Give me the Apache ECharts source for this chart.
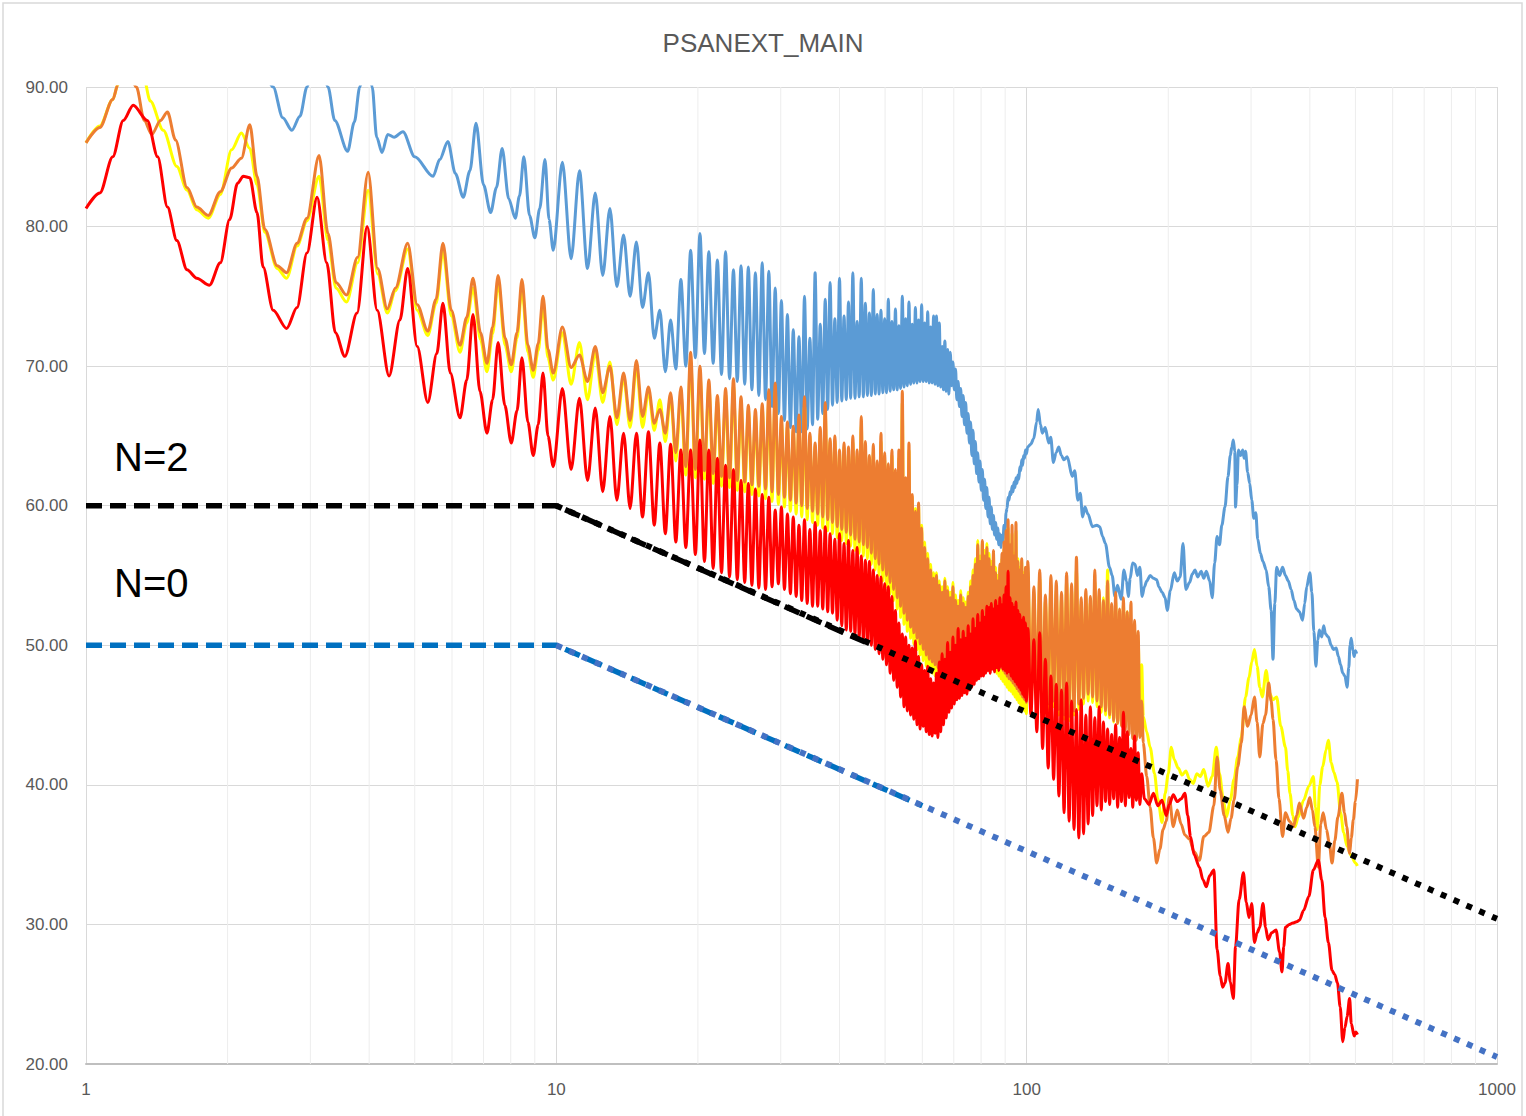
<!DOCTYPE html>
<html>
<head>
<meta charset="UTF-8">
<title>PSANEXT_MAIN</title>
<script src="https://cdn.jsdelivr.net/npm/echarts@6/dist/echarts.min.js"></script>
<style>
    html, body { margin: 0; padding: 0; background: #fff; }
    #main { width: 1526px; height: 1116px; }
</style>
</head>
<body>
<div id="main"></div>
<script>
    // ---- data (frequency in Hz, level in dB) ----
    var yTicks = [20, 30, 40, 50, 60, 70, 80, 90];
    var minorGridHz = [2, 3, 4, 5, 6, 7, 8, 9, 20, 30, 40, 50, 60, 70, 80, 90, 200, 300, 400, 500, 600, 700, 800, 900];

    // 1 .. 10 Hz, each trace read on its own
    var blueLowHz = [1.0,1.5,2.0,2.3,2.5,2.62,2.74,2.85,2.95,3.1,3.27,3.38,3.6,3.72,3.82,3.95,4.06,4.15,4.26,4.38,4.52,4.72,5.0,5.47,5.65,5.88,6.1,6.34,6.55,6.75,7.0,7.25,7.46,7.67,7.92,8.18,8.35,8.53,8.77,9.0,9.22,9.46,9.65];
    var blueLowDb = [98,99,96,93,90.0,87.8,86.9,87.9,90.0,94,90.0,87.6,85.4,87.5,90.0,93,90.0,86.4,85.3,86.6,86.4,86.8,85.0,83.6,84.8,86.1,83.8,82.1,84.0,87.4,83.0,81.0,82.8,85.6,82.0,80.6,82.2,85.0,80.8,79.2,81.3,84.8,80.5];

    var yellowLowHz = [1.0,1.07,1.14,1.17,1.24,1.32,1.37,1.46,1.56,1.64,1.72,1.82,1.93,2.04,2.14,2.23,2.31,2.4,2.55,2.67,2.81,2.95,3.13,3.27,3.4,3.58,3.78,3.98,4.17,4.37,4.55,4.83,5.06,5.33,5.55,5.74,5.98,6.24,6.45,6.65,6.9,7.12,7.32,7.52,7.78,8.02,8.25,8.45,8.7,8.93,9.15,9.37,9.6];
    var yellowLowDb = [86.0,87.2,89.1,90.2,92.5,91.0,89.0,86.9,84.3,82.6,81.2,80.6,82.3,85.5,86.7,85.6,83.0,79.6,77.0,76.3,78.6,80.4,83.6,79.0,75.6,74.6,77.4,82.6,76.6,73.8,75.4,78.4,74.0,72.2,74.5,78.2,73.6,71.0,73.1,75.6,71.9,69.6,72.3,76.0,71.5,69.6,72.0,75.6,71.0,69.2,71.1,74.3,70.6];

    var orangeLowHz = [1.0,1.07,1.14,1.17,1.22,1.28,1.33,1.38,1.44,1.49,1.55,1.64,1.72,1.82,1.93,2.04,2.14,2.23,2.31,2.4,2.55,2.67,2.81,2.95,3.13,3.27,3.4,3.58,3.78,3.98,4.17,4.37,4.55,4.83,5.06,5.33,5.55,5.74,5.98,6.24,6.45,6.65,6.9,7.12,7.32,7.52,7.78,8.02,8.25,8.45,8.7,8.93,9.15,9.37,9.6];
    var orangeLowDb = [86.0,87.1,89.1,90.2,91.6,90.0,87.6,86.6,87.6,88.2,86.2,82.8,81.4,80.8,82.5,84.2,84.9,87.3,83.6,79.8,77.2,76.7,78.8,80.6,85.1,79.5,76.0,75.1,77.8,83.9,77.0,74.1,75.6,78.8,74.4,72.5,74.8,78.8,74.0,71.5,73.5,76.3,72.4,70.2,72.8,76.5,72.0,70.1,72.4,76.2,71.5,69.7,71.6,75.0,71.2];

    var redLowHz = [1.0,1.07,1.14,1.2,1.26,1.35,1.42,1.49,1.56,1.64,1.72,1.83,1.93,2.02,2.1,2.16,2.23,2.31,2.38,2.5,2.67,2.81,2.95,3.1,3.25,3.39,3.55,3.77,3.96,4.16,4.41,4.65,4.83,5.06,5.33,5.57,5.74,5.95,6.24,6.45,6.65,6.88,7.12,7.32,7.52,7.77,8.02,8.25,8.45,8.7,8.93,9.15,9.37,9.6];
    var redLowDb = [81.3,82.4,85.0,87.6,88.7,87.6,85.0,81.4,79.0,76.9,76.3,75.8,77.4,80.5,83.1,83.6,83.5,81.0,77.1,74.0,72.7,74.2,78.1,82.1,77.4,72.4,70.7,73.8,80.0,74.0,69.3,73.3,77.0,71.4,67.4,70.9,74.5,69.5,66.3,69.0,73.7,68.2,65.2,67.6,71.7,67.2,64.5,66.8,70.6,66.0,63.6,65.8,69.5,65.0];

    // 10 .. 100 Hz ripple, trough / peak pairs shared by all traces
    var midHz = [
        9.85,10.3,10.75,11.2,11.65,12.1,12.55,13.0,13.45,13.9,
        14.35,14.8,15.25,15.7,16.15,16.6,17.05,17.5,17.95,18.4,
        18.85,19.3,19.75,20.2,20.65,21.1,21.55,22.0,22.45,22.9,
        23.35,23.8,24.25,24.7,25.15,25.6,26.05,26.5,26.95,27.4,
        27.85,28.3,28.75,29.2,29.65,30.1,30.55,31.0,31.45,31.9,
        32.35,32.8,33.25,33.7,34.15,34.6,35.05,35.5,35.95,36.4,
        36.85,37.3,37.75,38.2,38.65,39.1,39.55,40.0,40.45,40.9,
        41.35,41.8,42.25,42.7,43.15,43.6,44.05,44.5,44.95,45.4,
        45.85,46.3,46.75,47.2,47.65,48.1,48.55,49.0,49.45,49.9,
        50.35,50.8,51.25,51.7,52.15,52.6,53.05,53.5,53.95,54.4,
        54.85,55.3,55.75,56.2,56.65,57.1,57.55,58.0,58.45,58.9,
        59.35,59.8,60.25,60.7,61.15,61.6,62.05,62.5,62.95,63.4,
        63.85,64.3,64.75,65.2,65.65,66.1,66.55,67.0,67.45,67.9,
        68.35,68.8,69.25,69.7,70.15,70.6,71.05,71.5,71.95,72.4,
        72.85,73.3,73.75,74.2,74.65,75.1,75.55,76.0,76.45,76.9,
        77.35,77.8,78.25,78.7,79.15,79.6,80.05,80.5,80.95,81.4,
        81.85,82.3,82.75,83.2,83.65,84.1,84.55,85.0,85.45,85.9,
        86.35,86.8,87.25,87.7,88.15,88.6,89.05,89.5,89.95,90.4,
        90.85,91.3,91.75,92.2,92.65,93.1,93.55,94.0,94.45,94.9,
        95.35,95.8,96.25,96.7,97.15,97.6,98.05,98.5,98.95,99.4,
        99.85
    ];
    var blueMidDb = [
        78.3,84.6,77.7,84.0,77.0,82.4,76.5,81.3,75.7,79.4,
        75.0,78.9,74.2,76.7,72.0,74.0,69.6,73.3,69.8,76.2,
        70.0,78.3,70.6,79.5,70.9,78.2,70.2,77.6,69.4,78.2,
        69.1,76.9,68.9,77.2,68.7,77.1,68.3,76.7,67.9,77.4,
        67.6,76.8,67.1,75.6,66.6,74.7,66.1,73.7,65.6,72.6,
        65.3,72.1,65.3,75.0,65.5,72.0,65.8,76.7,66.2,73.0,
        66.6,74.8,66.9,76.0,67.2,73.4,67.4,76.3,67.5,73.6,
        67.6,74.6,67.7,76.7,67.7,73.2,67.8,76.3,67.8,74.5,
        67.9,73.8,67.9,75.5,68.0,73.7,68.0,74.0,68.1,73.4,
        68.1,74.8,68.2,73.2,68.3,74.1,68.3,72.9,68.4,75.0,
        68.5,73.4,68.6,74.6,68.7,73.0,68.8,74.2,68.8,73.3,
        68.9,74.4,68.9,73.1,68.9,73.9,68.8,72.8,68.8,73.6,
        68.7,73.6,68.6,73.1,68.5,71.4,68.3,71.8,68.2,71.2,
        68.0,71.0,68.6,70.3,68.3,69.8,67.6,68.9,67.1,68.4,
        66.4,67.9,65.8,67.4,65.2,66.6,64.5,66.0,63.6,65.4,
        63.0,64.6,62.3,63.8,61.7,63.2,61.1,62.6,60.4,61.9,
        59.8,61.3,59.2,60.6,58.7,59.9,58.3,59.3,57.9,58.8,
        57.6,58.4,57.2,58.0,57.0,57.9,57.4,58.6,58.2,59.5,
        59.8,60.6,60.4,61.0,60.8,61.4,61.0,61.7,61.3,62.0,
        61.6,62.2,61.9,62.8,62.5,63.3,62.9,63.6,63.4,64.0,
        63.7
    ];
    var yellowMidDb = [
        69.0,72.4,68.7,71.7,67.6,71.0,67.4,70.3,65.8,69.2,
        65.6,70.0,65.6,68.2,65.4,67.6,64.6,67.8,63.2,68.0,
        62.2,70.4,62.0,69.4,61.9,68.6,61.6,67.5,61.4,68.0,
        61.3,68.6,61.1,67.4,61.0,66.9,60.8,66.5,60.7,67.0,
        60.5,67.6,60.3,68.2,60.1,66.0,59.9,65.7,59.6,65.4,
        59.4,66.1,59.2,67.2,59.0,65.0,58.8,64.3,58.6,65.2,
        58.4,66.8,58.2,64.6,58.0,64.7,57.7,63.8,57.5,64.2,
        57.3,63.8,57.1,64.6,56.8,63.6,56.6,65.8,56.4,64.0,
        56.2,63.2,55.8,63.9,55.4,62.8,55.0,64.6,54.6,63.4,
        54.2,62.6,53.7,63.6,53.2,62.2,52.6,63.4,52.0,67.4,
        51.5,61.8,51.0,64.0,50.5,60.6,50.1,59.8,49.7,60.0,
        49.3,58.6,48.9,57.4,48.5,56.6,48.2,55.8,48.0,55.2,
        47.8,55.2,47.6,54.6,47.4,54.2,47.3,54.8,47.2,54.2,
        47.2,53.8,47.3,54.5,47.2,53.6,47.4,53.2,47.5,53.9,
        47.7,53.4,47.8,53.1,48.0,53.8,48.2,54.6,48.5,55.4,
        48.8,56.2,49.1,57.5,49.3,56.4,49.5,57.4,49.4,56.8,
        49.2,57.3,49.0,56.6,48.7,56.0,48.5,56.6,48.2,55.6,
        48.0,55.0,47.8,55.6,47.6,56.2,47.4,56.9,47.2,57.6,
        47.0,58.4,46.8,57.0,46.7,58.0,46.5,56.6,46.3,58.2,
        46.1,56.2,45.9,55.6,45.7,56.0,45.5,55.2,45.3,55.4,
        45.1
    ];
    var orangeMidDb = [
        69.5,72.8,69.9,70.8,68.9,71.4,68.1,70.0,66.3,69.5,
        66.1,70.4,66.4,68.5,65.9,66.9,65.2,68.1,63.8,68.5,
        62.8,71.0,62.6,70.0,62.5,69.0,62.3,67.9,62.1,68.4,
        62.0,69.1,61.8,67.8,61.7,67.2,61.5,66.9,61.4,67.3,
        61.2,68.3,61.0,68.8,60.8,66.4,60.6,66.0,60.4,65.7,
        60.2,66.5,60.0,67.8,59.8,65.2,59.6,64.5,59.4,65.6,
        59.2,67.4,59.0,64.8,58.8,65.0,58.5,64.0,58.3,64.5,
        58.1,64.2,57.9,65.0,57.6,64.0,57.4,66.4,57.2,64.6,
        57.0,63.6,56.6,64.4,56.2,63.2,55.8,65.2,55.4,63.8,
        55.0,63.0,54.5,64.0,54.0,62.6,53.4,64.0,52.8,68.2,
        52.3,62.0,51.8,64.5,51.3,60.8,50.9,59.6,50.5,60.2,
        50.1,58.4,49.7,57.0,49.3,56.2,49.0,55.4,48.8,54.8,
        48.6,55.0,48.4,54.3,48.2,53.8,48.1,54.6,48.0,53.9,
        48.0,53.4,48.1,54.2,48.0,53.2,48.2,52.8,48.3,53.6,
        48.5,53.0,48.6,52.7,48.8,53.5,49.0,54.2,49.3,55.0,
        49.6,55.8,49.9,57.2,50.1,56.0,50.3,57.5,50.2,56.4,
        50.0,57.0,49.8,56.2,49.5,55.6,49.3,56.8,49.0,55.2,
        48.8,54.6,48.6,55.8,48.4,56.6,48.2,57.4,48.0,58.2,
        47.8,59.0,47.6,57.2,47.5,58.6,47.3,56.4,47.1,58.8,
        46.9,56.0,46.7,55.4,46.5,56.2,46.3,55.0,46.1,55.6,
        45.9
    ];
    var redMidDb = [
        62.8,68.4,62.6,67.7,61.8,67.0,61.0,66.4,60.4,65.2,
        59.8,65.2,59.2,65.3,58.6,64.5,58.0,64.4,57.4,64.0,
        57.0,64.0,56.5,64.7,56.0,64.0,55.5,63.4,55.2,62.9,
        54.9,62.6,54.7,61.8,54.5,61.6,54.3,61.2,54.1,60.8,
        54.0,60.6,54.2,59.7,54.4,59.9,54.0,59.4,53.7,59.2,
        53.5,58.6,53.2,59.0,53.0,58.3,52.8,58.8,52.8,58.2,
        52.6,58.5,52.4,58.0,52.3,57.6,51.8,58.0,51.4,57.3,
        51.1,57.5,51.0,56.8,50.8,57.0,50.6,56.4,50.4,56.1,
        50.2,56.0,50.0,55.4,49.7,55.0,49.4,54.9,49.0,54.4,
        48.6,54.2,48.0,53.5,47.5,52.5,47.0,51.6,46.3,50.8,
        45.6,50.6,45.3,50.0,45.0,49.8,44.7,50.3,44.3,49.2,
        44.0,48.6,44.2,48.2,43.8,48.5,43.6,47.6,43.5,47.3,
        43.7,48.0,43.4,48.8,43.8,49.4,44.3,49.0,44.8,50.2,
        45.2,49.5,45.5,50.6,45.8,50.0,46.1,51.2,46.2,50.4,
        46.4,51.0,46.6,50.5,46.5,51.4,46.8,50.8,47.0,51.9,
        47.2,51.2,47.5,52.2,47.6,51.6,47.8,52.5,47.8,52.0,
        48.0,52.8,48.2,52.7,48.0,53.0,48.3,52.6,48.1,53.2,
        48.4,52.8,48.2,53.4,48.5,52.9,48.3,53.6,48.2,54.2,
        48.0,55.3,48.1,53.4,47.8,53.0,47.6,52.7,47.4,53.1,
        47.2,52.5,47.0,52.2,46.8,51.8,46.5,52.0,46.3,51.6,
        46.0
    ];

    // 100 .. 176 Hz, peak / trough pairs for yellow, orange, red
    var hiHz = [
        100.6,102.1,103.6,105.1,106.6,108.1,109.6,111.1,112.6,114.1,
        115.6,117.1,118.6,120.1,121.6,123.1,124.6,126.1,127.6,129.1,
        130.6,132.1,133.6,135.1,136.6,138.1,139.6,141.1,142.6,144.1,
        145.6,147.1,148.6,150.1,151.6,153.1,154.6,156.1,157.6,159.1,
        160.6,162.1,163.6,165.1,166.6,168.1,169.6,171.1,172.6,174.1,
        175.6
    ];
    var yellowHiDb = [
        55.4,45.2,53.8,45.4,54.9,44.8,53.2,45.4,54.4,45.6,
        54.0,45.0,53.4,44.7,54.6,44.6,54.0,45.0,55.4,45.4,
        53.0,45.8,53.6,46.0,53.1,45.9,54.6,45.6,53.6,45.2,
        53.4,45.0,55.4,44.8,52.6,44.5,53.2,44.4,52.2,44.3,
        53.0,44.2,52.4,44.5,51.6,44.8,51.2,45.0,50.4,45.2,
        48.6
    ];
    var orangeHiDb = [
        56.0,45.6,54.2,45.8,55.4,45.2,53.6,45.8,55.0,46.0,
        54.6,45.4,53.8,45.0,55.2,44.9,54.4,45.3,56.3,45.8,
        53.4,46.2,54.0,46.5,53.5,46.3,55.4,46.0,54.0,45.6,
        53.2,45.3,54.6,45.0,53.0,44.6,53.8,44.4,52.6,44.2,
        53.4,43.9,52.4,43.6,53.1,43.3,51.8,43.2,51.0,43.4,
        46.0
    ];
    var redHiDb = [
        51.2,45.0,50.4,43.8,50.9,42.6,49.0,41.2,47.8,40.4,
        47.2,39.2,46.8,38.0,47.3,37.4,46.0,36.8,45.4,36.2,
        46.1,36.5,45.0,37.2,45.6,37.8,44.8,38.5,45.6,38.2,
        44.5,38.8,44.0,38.6,43.6,39.0,44.3,38.4,43.4,38.8,
        45.2,38.5,43.8,39.1,42.6,38.4,43.5,38.9,42.3,38.6,
        40.8
    ];

    // single-line tails up to ~500 Hz
    var blueTailHz = [100.5,102,103.5,105,105.8,107,108,109.5,111.4,112.5,114,115.5,117,118.5,120,122,125,126.5,128.5,130,131.5,133,135,138,141,143,145,147,150,152,154,156,158.8,161,163,164.5,166,168,170,172,174,176,178,180,183,186,189,191,194,197,199,202,206,209,212,215,218,222,225,228,231,235,238,241,245,248,251,254,257,260,264,268,271,273,275,277,278,280,282,285,288,290,292,295,298,301,304,307,310,314,318,323,327,331,334,337,340,345,350,355,360,365,370,375,380,386,390,394,400,404,408,412,416,419,424,428,432,438,444,449,455,460,465,470,475,480,484,487,490,494,497,500,503];
    var blueTailDb = [64.2,64.4,64.8,66.0,66.9,65.8,65.2,65.6,64.5,64.9,63.1,63.8,64.2,63.6,63.3,63.5,62.1,62.5,60.4,60.9,59.2,59.9,59.4,58.5,58.6,58.5,57.8,57.3,55.6,55.0,53.5,54.3,53.3,55.4,54.6,53.5,54.8,55.9,55.8,55.0,55.6,53.5,54.2,54.6,55.0,54.8,54.7,54.2,53.8,53.4,52.5,53.9,55.2,54.6,54.9,57.3,54.0,54.5,55.1,55.4,54.9,55.3,54.8,55.3,54.6,53.4,55.9,57.8,57.2,58.6,59.9,62.1,63.6,64.2,64.7,63.9,59.9,61.5,64.0,63.6,64.0,63.4,63.9,62.4,61.6,60.4,59.1,59.5,57.6,56.6,56.0,55.4,54.2,52.5,49.0,53.0,55.6,55.0,55.6,55.0,54.6,54.0,53.2,52.6,52.4,51.8,53.0,54.2,55.2,53.8,51.0,48.5,50.4,51.1,50.6,51.4,50.8,50.6,50.0,49.7,49.8,49.2,48.6,48.0,47.8,47.0,48.4,50.0,50.5,49.6,49.2,49.6,49.4];

    var yellowTailHz = [177,180,183,187,190,194,197,200,203,206,210,214,218,222,226,230,234,238,243,248,253,257,262,266,271,276,281,286,292,297,301,305,309,313,317,323,328,334,340,347,355,359,363,368,372,378,388,398,407,411,415,420,426,433,438,444,450,457,465,472,480,490,500,505];
    var yellowTailDb = [44.9,43.8,42.7,40.8,39.0,37.3,39.4,40.8,42.7,41.8,41.2,40.7,41.0,40.4,40.1,40.8,40.6,41.1,39.9,40.6,42.7,40.8,38.9,37.7,38.9,40.4,42.0,43.4,46.3,47.7,48.8,49.7,48.5,47.0,46.3,48.2,46.6,46.1,46.3,44.2,42.7,41.0,39.4,37.8,37.0,37.7,38.9,39.9,40.6,38.4,36.8,40.0,41.3,42.5,43.2,41.6,40.9,40.2,38.0,36.6,35.6,34.9,34.4,34.2];

    var orangeTailHz = [177,180,183,186,189,192,195,198,201,205,209,213,217,222,227,233,238,244,250,254,258,263,268,272,276,281,286,290,295,300,305,309,313,318,322,327,331,334,339,344,350,355,362,369,375,380,388,394,400,405,410,417,422,427,434,440,446,452,459,468,474,479,486,490,495,500,505];
    var orangeTailDb = [43.0,40.6,38.4,36.2,34.4,35.4,36.8,37.4,39.1,37.0,38.2,37.2,36.4,36.1,35.2,34.6,36.3,36.6,38.5,42.0,39.6,37.8,36.6,37.6,38.9,41.3,43.0,45.6,44.2,45.0,46.3,44.5,42.0,44.4,45.0,47.3,46.0,44.7,41.8,39.0,36.3,38.0,37.4,37.0,37.8,38.7,37.6,38.4,39.1,38.2,37.0,34.1,37.2,38.0,36.8,35.8,34.4,36.0,37.7,39.4,38.0,37.0,35.1,36.2,37.5,38.8,40.4];

    var redTailHz = [178,182,186,190,194,198,201,205,209,213,217,220,223,227,233,237,241,245,250,254,258,261,264,268,271,275,278,283,289,293,297,301,305,309,313,318,322,326,332,339,345,349,352,355,362,368,375,380,388,398,407,417,424,431,438,446,452,458,464,470,475,480,486,490,497,501,505];
    var redTailDb = [39.0,38.6,39.4,38.5,38.9,37.8,38.6,39.3,38.8,39.0,39.4,37.8,36.3,35.0,34.1,33.2,32.7,33.5,33.9,28.2,26.3,25.5,25.8,27.2,25.9,24.7,28.4,31.8,33.7,31.6,30.5,31.5,28.7,29.4,29.8,31.5,29.8,28.9,29.4,29.6,28.0,26.6,28.4,29.8,30.0,30.1,30.2,30.3,31.0,32.0,33.9,34.6,33.2,30.5,28.7,26.7,26.4,25.8,24.1,21.6,22.6,23.4,24.7,22.9,22.0,22.3,22.1];

    // limit lines
    var n2DashHz = [1, 10, 47];
    var n2DashDb = [60, 60, 50.0];
    var n2DotHz = [10, 1000];
    var n2DotDb = [60, 30.4];
    var n0DashHz = [1, 10, 60];
    var n0DashDb = [50, 50, 38.5];
    var n0DotHz = [10, 1000];
    var n0DotDb = [50, 20.5];

    function zip(hz, db) {
        var out = [];
        for (var i = 0; i < hz.length; i++) {
            out.push([hz[i], db[i]]);
        }
        return out;
    }

    var blueData = zip(blueLowHz, blueLowDb).concat(zip(midHz, blueMidDb), zip(blueTailHz, blueTailDb));
    var yellowData = zip(yellowLowHz, yellowLowDb).concat(zip(midHz, yellowMidDb), zip(hiHz, yellowHiDb), zip(yellowTailHz, yellowTailDb));
    var orangeData = zip(orangeLowHz, orangeLowDb).concat(zip(midHz, orangeMidDb), zip(hiHz, orangeHiDb), zip(orangeTailHz, orangeTailDb));
    var redData = zip(redLowHz, redLowDb).concat(zip(midHz, redMidDb), zip(hiHz, redHiDb), zip(redTailHz, redTailDb));

    function trace(name, color, data) {
        return {
            name: name,
            type: 'line',
            data: data,
            showSymbol: false,
            smooth: 0.3,
            smoothMonotone: 'x',
            lineStyle: { color: color, width: 3 },
            z: 3
        };
    }

    function limit(name, color, data, width, dash) {
        return {
            name: name,
            type: 'line',
            data: data,
            showSymbol: false,
            lineStyle: { color: color, width: width, type: dash },
            z: 4
        };
    }

    var chart = echarts.init(document.getElementById('main'), null, { renderer: 'svg' });
    var option = {
        animation: false,
        backgroundColor: '#ffffff',
        title: {
            text: 'PSANEXT_MAIN',
            left: 'center',
            top: 25,
            textStyle: { fontFamily: 'Liberation Sans', fontSize: 26, fontWeight: 'normal', color: '#595959' }
        },
        grid: { left: 86, top: 87, right: 29, bottom: 52, outerBoundsMode: 'none' },
        xAxis: {
            type: 'log',
            logBase: 10,
            min: 1,
            max: 1000,
            axisLine: { show: true, lineStyle: { color: '#BFBFBF', width: 2 } },
            axisTick: { show: false },
            axisLabel: {
                color: '#595959',
                fontFamily: 'Liberation Sans',
                fontSize: 17,
                margin: 17,
                formatter: function (v) { return String(Math.round(v)); }
            },
            splitLine: { show: true, lineStyle: { color: '#D9D9D9', width: 1 } }
        },
        yAxis: {
            type: 'value',
            min: yTicks[0],
            max: yTicks[yTicks.length - 1],
            interval: 10,
            axisLine: { show: false },
            axisTick: { show: false },
            axisLabel: {
                color: '#595959',
                fontFamily: 'Liberation Sans',
                fontSize: 17,
                margin: 18,
                formatter: function (v) { return v.toFixed(2); }
            },
            splitLine: { lineStyle: { color: '#D9D9D9', width: 1 } }
        },
        graphic: [
            {
                type: 'rect',
                silent: true,
                shape: { x: 3, y: 3, width: 1519, height: 1200 },
                style: { fill: 'none', stroke: '#D9D9D9', lineWidth: 1.5 }
            },
            {
                type: 'text',
                x: 114,
                y: 457,
                style: { text: 'N=2', fontFamily: 'Liberation Sans', fontSize: 40, fill: '#000000', verticalAlign: 'middle' }
            },
            {
                type: 'text',
                x: 114,
                y: 583,
                style: { text: 'N=0', fontFamily: 'Liberation Sans', fontSize: 40, fill: '#000000', verticalAlign: 'middle' }
            }
        ],
        series: [
            {
                name: 'minor grid',
                type: 'custom',
                silent: true,
                z: 1,
                data: minorGridHz.map(function (f) { return [f, yTicks[0]]; }),
                encode: { x: 0, y: 1 },
                renderItem: function (params, api) {
                    var f = api.value(0);
                    var p1 = api.coord([f, yTicks[yTicks.length - 1]]);
                    var p2 = api.coord([f, yTicks[0]]);
                    return {
                        type: 'line',
                        shape: { x1: p1[0], y1: p1[1], x2: p2[0], y2: p2[1] },
                        style: { stroke: '#EDEDED', lineWidth: 1 }
                    };
                }
            },
            trace('blue', '#5B9BD5', blueData),
            trace('yellow', '#FFFF00', yellowData),
            trace('orange', '#ED7D31', orangeData),
            trace('red', '#FF0000', redData),
            limit('N=2 flat', '#000000', zip(n2DashHz, n2DashDb), 5.5, [16, 8]),
            limit('N=2 slope', '#000000', zip(n2DotHz, n2DotDb), 6, [6, 8]),
            limit('N=0 flat', '#0070C0', zip(n0DashHz, n0DashDb), 5.5, [16, 8]),
            limit('N=0 slope', '#4472C4', zip(n0DotHz, n0DotDb), 6, [6, 8])
        ]
    };
    chart.setOption(option);
</script>
</body>
</html>
